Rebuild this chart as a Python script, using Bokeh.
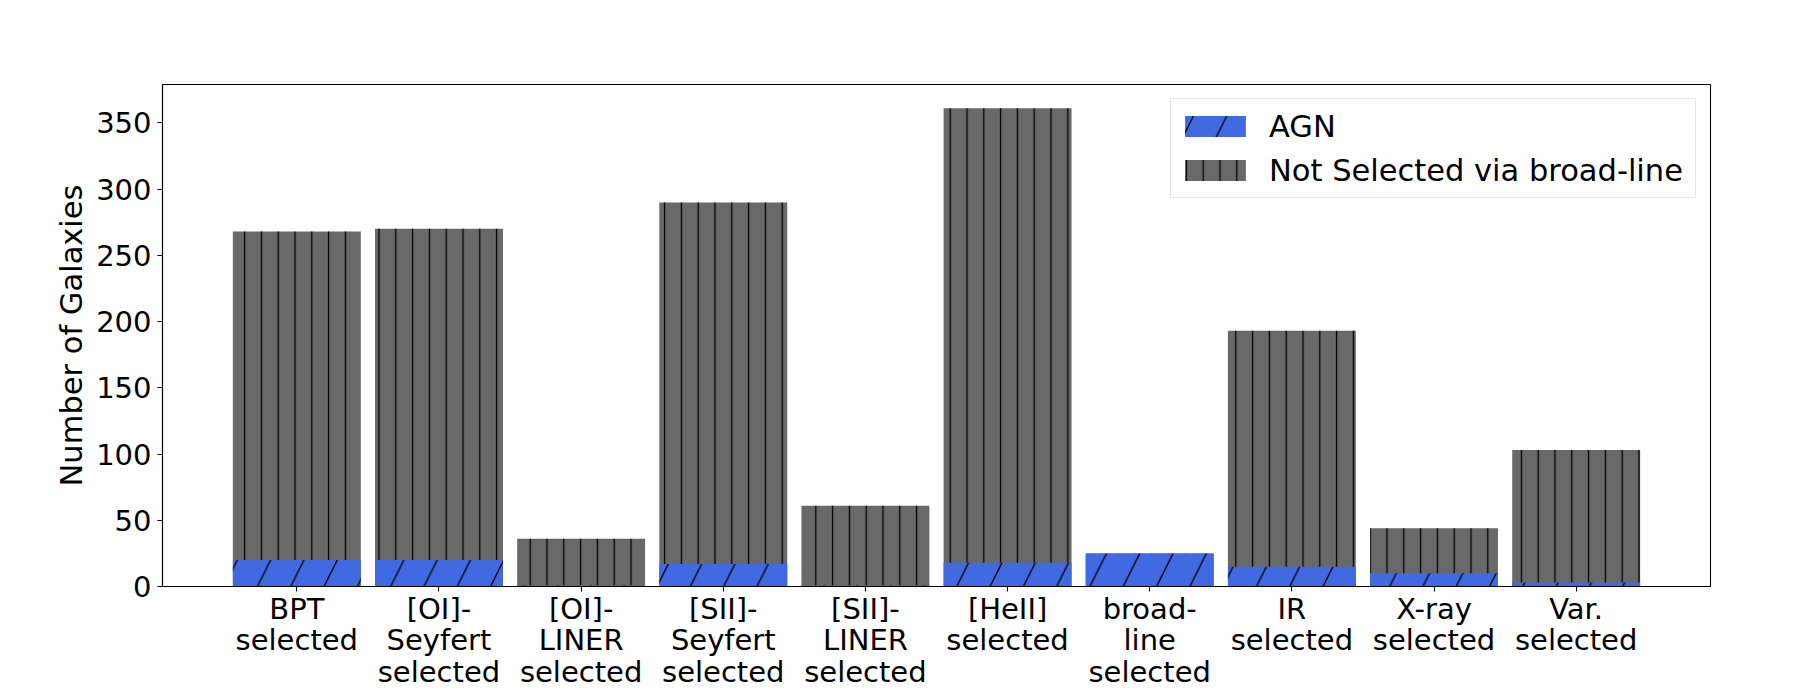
from bokeh.plotting import figure
from bokeh.models import Range1d, FixedTicker, Legend, LegendItem, ColumnDataSource
from bokeh.embed import file_html
from bokeh.resources import INLINE

# ---- data ----
categories = [
    "BPT\nselected",
    "[OI]-\nSeyfert\nselected",
    "[OI]-\nLINER\nselected",
    "[SII]-\nSeyfert\nselected",
    "[SII]-\nLINER\nselected",
    "[HeII]\nselected",
    "broad-\nline\nselected",
    "IR\nselected",
    "X-ray\nselected",
    "Var.\nselected",
]
total_counts = [268, 270, 36, 290, 61, 361, 25, 193, 44, 103]
agn_counts = [20, 20, 1, 17, 1, 18, 25, 15, 10, 3]
y_ticks = [0, 50, 100, 150, 200, 250, 300, 350]
series_labels = ["AGN", "Not Selected via broad-line"]

positions = list(range(len(categories)))
src = ColumnDataSource(dict(x=positions, total=total_counts, agn=agn_counts))

FONT = "DejaVu Sans"

p = figure(
    width=1784, height=692,
    output_backend="svg", toolbar_location=None,
    x_range=Range1d(-0.945, len(categories) - 1 + 0.945),
    y_range=Range1d(0, 379),
    min_border_left=162, min_border_right=74,
    min_border_top=84, min_border_bottom=97,
)
p.background_fill_color = "white"
p.border_fill_color = "white"
p.xgrid.visible = False
p.ygrid.visible = False
p.outline_line_color = "black"
p.outline_line_width = 1.1
p.outline_line_alpha = 1.0

gray = p.vbar(x="x", top="total", bottom=0, width=0.9, source=src,
              fill_color="#696969", line_color=None,
              hatch_pattern="|", hatch_color="black", hatch_weight=1.3,
              hatch_scale=16.8)
blue = p.vbar(x="x", top="agn", bottom=0, width=0.9, source=src,
              fill_color="#4169E1", line_color=None,
              hatch_pattern="/", hatch_color="black", hatch_weight=1.3,
              hatch_scale=66.6)

# axes
p.xaxis.ticker = FixedTicker(ticks=positions)
p.xaxis.major_label_overrides = {i: lab for i, lab in zip(positions, categories)}
p.yaxis.ticker = FixedTicker(ticks=y_ticks)
p.yaxis.axis_label = "Number of Galaxies"

for ax in (p.xaxis[0], p.yaxis[0]):
    ax.minor_tick_line_color = None
    ax.major_tick_in = 0
    ax.major_tick_out = 5
    ax.major_tick_line_width = 1.1
    ax.major_tick_line_color = "black"
    ax.axis_line_color = "black"
    ax.axis_line_width = 1.1
    ax.major_label_text_font = FONT
    ax.major_label_text_font_size = "29px"
    ax.major_label_text_color = "black"
    ax.axis_label_text_font = FONT
    ax.axis_label_text_font_size = "30.5px"
    ax.axis_label_text_font_style = "normal"
    ax.axis_label_text_color = "black"

p.xaxis.major_label_standoff = 0
p.xaxis.major_label_text_line_height = 0.94
p.yaxis.major_label_standoff = 6
p.yaxis.axis_label_standoff = 4

legend = Legend(
    items=[LegendItem(label=series_labels[0], renderers=[blue]),
           LegendItem(label=series_labels[1], renderers=[gray])],
    location="top_right", margin=14, padding=6, spacing=2,
    glyph_width=76, glyph_height=26, label_standoff=16,
    label_height=42, label_width=420,
    label_text_font=FONT, label_text_font_size="30.5px",
    label_text_color="black",
    border_line_color="#cccccc", border_line_width=1.1,
    background_fill_color="white", background_fill_alpha=0.8,
)
p.add_layout(legend)

open("out.html", "w").write(file_html(p, INLINE))
